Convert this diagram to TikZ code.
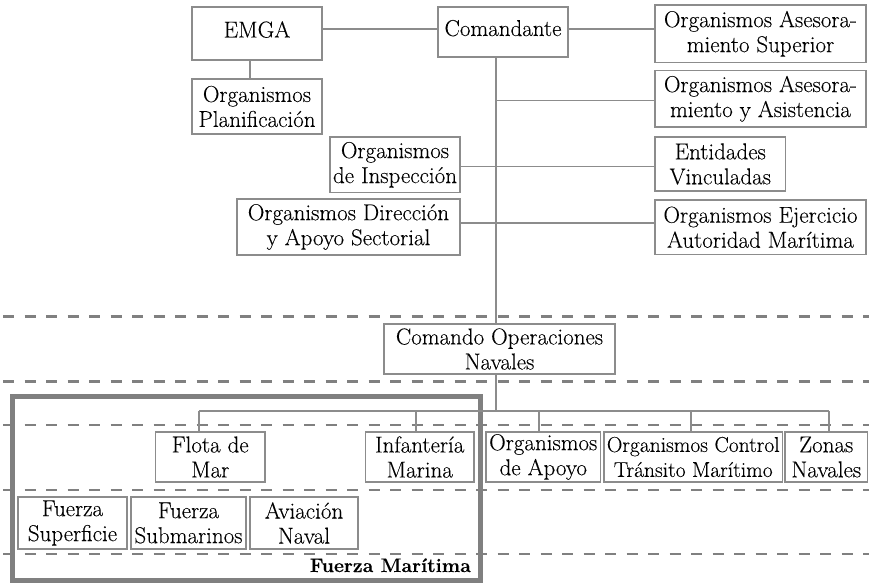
\documentclass[tikz,border=0pt]{standalone}
\usepackage{fontspec}
\setmainfont{Latin Modern Roman}[FakeBold=0.15]
\definecolor{boxgray}{RGB}{140,140,140}
\definecolor{bandgray}{RGB}{128,128,128}

\tikzset{
  orgnode/.style={draw=boxgray, line width=1.2pt, inner sep=0pt, align=center,
    text=black, font=\fontsize{23}{25}\selectfont},
  oneline/.style={text height=16pt, text depth=8pt},
  link/.style={draw=boxgray, line width=1.2pt},
  band/.style={draw=bandgray, line width=2.7pt, dash pattern=on 11pt off 10.5pt},
  groupframe/.style={draw=bandgray, line width=5pt},
}

% box given by its name, corner (x1,y1), corner (x2,y2) and its text
\newcommand\orgbox[7][]{%
  \node[orgnode, minimum width={#5-#3}, minimum height={#6-#4}, #1]
    (#2) at ({(#3+#5)/2},{(#4+#6)/2}) {#7};}

\begin{document}
\begin{tikzpicture}[x=1pt,y=-1pt]
\useasboundingbox (0,0) rectangle (869,583);

% level separators
\foreach \yy in {316.7,381.7,425,490,554}
  \draw[band] (3,\yy) -- (869,\yy);

% Fuerza Maritima group
\draw[groupframe] (12,396.7) rectangle (480,580.5);
\node[font=\fontsize{19.5}{22}\selectfont\bfseries, anchor=base east, inner sep=0pt]
  (fmlabel) at (471,572) {Fuerza Marítima};

% upper command structure
\orgbox[oneline]{emga}{192}{7}{322}{60}{EMGA}
\orgbox[oneline]{coman}{438}{7}{568}{57}{Comandante}
\orgbox{sup}{655}{5}{866}{62.5}{Organismos Asesora-\\miento Superior}
\orgbox{asis}{655}{70.5}{866}{127}{Organismos Asesora-\\miento y Asistencia}
\orgbox{plan}{192}{79}{322}{134}{Organismos\\Planificación}
\orgbox{insp}{330}{137}{460}{192.5}{Organismos\\de Inspección}
\orgbox{ent}{655}{137}{785.5}{191}{Entidades\\Vinculadas}
\orgbox{dir}{237}{199}{460}{255}{Organismos Dirección\\y Apoyo Sectorial}
\orgbox{ejer}{655}{200}{866}{254.5}{Organismos Ejercicio\\Autoridad Marítima}

% operational level
\orgbox{con}{384}{324}{615}{374}{Comando Operaciones\\Navales}
\orgbox{flota}{155.5}{432}{265}{482}{Flota de\\Mar}
\orgbox{inf}{365.5}{432}{474}{482}{Infantería\\Marina}
\orgbox{apoyo}{486}{432}{600.5}{482}{Organismos\\de Apoyo}
\orgbox[font=\fontsize{21.5}{25}\selectfont]{ctrl}{604}{432}{782.5}{482}{Organismos Control\\Tránsito Marítimo}
\orgbox{zonas}{785}{432}{867.5}{482}{Zonas\\Navales}
\orgbox{sfc}{18}{497}{127}{549}{Fuerza\\Superficie}
\orgbox{sub}{131}{497}{246}{549}{Fuerza\\Submarinos}
\orgbox{avi}{250}{497}{358}{549}{Aviación\\Naval}

% connector guides
\coordinate (toprow) at (0,29);
\coordinate (plink) at (250,0);
\coordinate (spine) at (496,0);
\coordinate (bus) at (496,411);
\coordinate (busL) at (199,411);
\coordinate (busR) at (829,411);

\draw[link] (emga.east |- toprow) -- (coman.west |- toprow);
\draw[link] (coman.east |- toprow) -- (sup.west |- toprow);
\draw[link] (plink |- emga.south) -- (plink |- plan.north);
\draw[link] (spine |- coman.south) -- (spine |- con.north);
\draw[link] ([yshift=-2pt]asis.west) -- ([yshift=-2pt]asis.west -| spine);
\draw[link] ([yshift=-1.5pt]insp.east) -- ([yshift=-1.5pt]insp.east -| ent.west);
\draw[link] ([yshift=4pt]dir.east) -- ([yshift=4pt]dir.east -| ejer.west);
\draw[link] (spine |- con.south) -- (bus);
\draw[link] (busL) -- (busR);
\foreach \xx/\nn in {199/flota,416/inf,539/apoyo,691/ctrl,829/zonas}{
  \coordinate (d\nn) at (\xx,411);
  \draw[link] (d\nn) -- (d\nn |- \nn.north);
}
\end{tikzpicture}
\end{document}
